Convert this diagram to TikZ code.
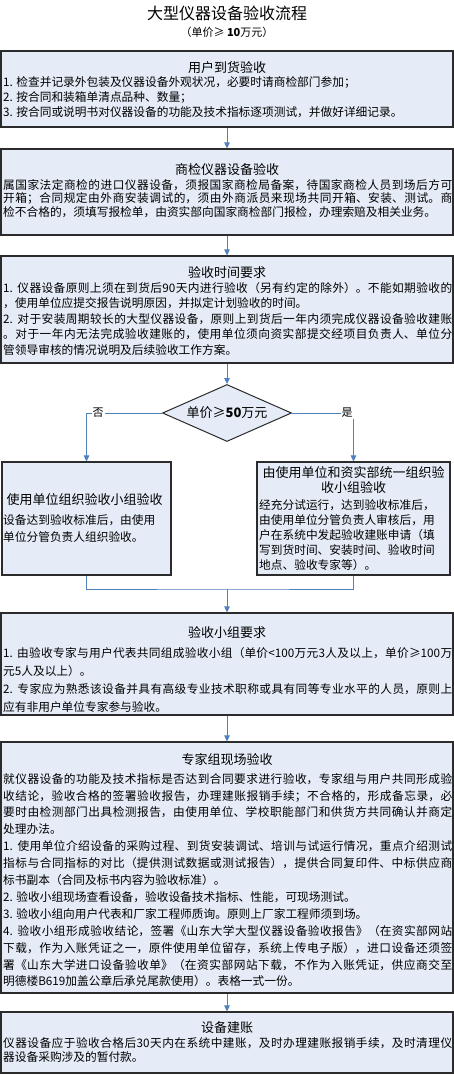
\documentclass[tikz,border=0pt]{standalone}
\usepackage{fontspec}
\setmainfont{Noto Sans CJK SC}
\usetikzlibrary{shapes.geometric,arrows.meta}
\XeTeXlinebreaklocale "zh"
\XeTeXlinebreakskip=0pt plus 1.5pt minus 0.1pt
\setlength{\parindent}{0pt}
\setlength{\parskip}{0pt}
\definecolor{boxfill}{HTML}{E5ECF7}
\definecolor{boxline}{HTML}{2B2B2B}
\definecolor{connc}{HTML}{4F81BD}
\begin{document}
\begin{tikzpicture}[x=1pt,y=-1pt,
  box/.style={draw=boxline, fill=boxfill, line width=1.1pt, inner sep=0pt},
  dia/.style={diamond, draw=boxline, fill=boxfill, line width=1pt, aspect=2.26,
    minimum width=129pt, minimum height=57pt, inner sep=0pt, font=\fontsize{13}{15}\selectfont},
  conn/.style={draw=connc, line width=0.9pt},
  arr/.style={conn, -{Triangle[width=5.5pt,length=6pt]}},
  ttl/.style={inner sep=0pt, font=\fontsize{13}{15}\selectfont},
  body/.style={inner sep=0pt, anchor=north west, align=justify, text width=449pt},
  lbl/.style={fill=white, inner sep=1pt, font=\fontsize{11}{13}\selectfont}]
\useasboundingbox (0,0) rectangle (454,1075);
\fill[white] (0,0) rectangle (454,1075);

% main title
\node[inner sep=0pt, font=\fontsize{16}{18}\selectfont] (title) at (227,13) {大型仪器设备验收流程};
\node[inner sep=0pt, font=\fontsize{11}{13}\selectfont] (sub) at (227,32) {（单价≥ \textbf{10}万元）};

% boxes
\node[box, minimum width=452pt, minimum height=76pt] (b1) at (227,89) {};
\node[box, minimum width=452pt, minimum height=86pt] (b2) at (227,192) {};
\node[box, minimum width=452pt, minimum height=107pt] (b3) at (227,309.5) {};
\node[dia] (d) at (227,413) {单价≥\textbf{50}万元};
\node[box, minimum width=169pt, minimum height=113pt] (lb) at (86.5,518.5) {};
\node[box, minimum width=193pt, minimum height=113pt] (rb) at (353.5,518.5) {};
\node[box, minimum width=452pt, minimum height=102pt] (b4) at (227,664) {};
\node[box, minimum width=452pt, minimum height=251pt] (b5) at (227,867.5) {};
\node[box, minimum width=452pt, minimum height=61pt] (b6) at (227,1042.5) {};

% connectors
\draw[arr] (b1.south) -- (b2.north);
\draw[arr] (b2.south) -- (b3.north);
\draw[arr] (b3.south) -- (d.north);
\draw[arr] (d.west) -| (lb.north);
\draw[arr] (d.east) -| (rb.north);
\coordinate (m) at (227,589);
\draw[conn] (lb.south) |- (m) -| (rb.south);
\draw[arr] (m) -- (b4.north);
\draw[arr] (b4.south) -- (b5.north);
\draw[arr] (b5.south) -- (b6.north);
\node[lbl] (no) at (98,413) {否};
\node[lbl] (yes) at (347,413) {是};

% box 1
\node[ttl] (t1) at (227,68) {用户到货验收};
\node[body, font=\fontsize{11.7}{15}\selectfont] (x1) at (3,76) {1. 检查并记录外包装及仪器设备外观状况，必要时请商检部门参加；\par
2. 按合同和装箱单清点品种、数量；\par
3. 按合同或说明书对仪器设备的功能及技术指标逐项测试，并做好详细记录。};

% box 2
\node[ttl] (t2) at (227,170) {商检仪器设备验收};
\node[body, font=\fontsize{11.7}{13.5}\selectfont] (x2) at (3,179) {属国家法定商检的进口仪器设备，须报国家商检局备案，待国家商检人员到场后方可\linebreak 开箱；合同规定由外商安装调试的，须由外商派员来现场共同开箱、安装、测试。商\linebreak 检不合格的，须填写报检单，由资实部向国家商检部门报检，办理索赔及相关业务。};

% box 3
\node[ttl] (t3) at (227,273) {验收时间要求};
\node[body, font=\fontsize{11.7}{15.5}\selectfont] (x3) at (3,282) {1. 仪器设备原则上须在到货后90天内进行验收（另有约定的除外）。不能如期验收的\linebreak ，使用单位应提交报告说明原因，并拟定计划验收的时间。\par
2. 对于安装周期较长的大型仪器设备，原则上到货后一年内须完成仪器设备验收建账\linebreak 。对于一年内无法完成验收建账的，使用单位须向资实部提交经项目负责人、单位分\linebreak 管领导审核的情况说明及后续验收工作方案。};

% left box
\node[ttl] (tl) at (84.5,500) {使用单位组织验收小组验收};
\node[body, align=left, text width=166pt, font=\fontsize{11.7}{17}\selectfont] (xl) at (3,514) {设备达到验收标准后，由使用\\单位分管负责人组织验收。};

% right box
\node[ttl, align=center, font=\fontsize{13}{15}\selectfont] (tr) at (353.5,480.5) {由使用单位和资实部统一组织验\\收小组验收};
\node[body, align=left, text width=191pt, font=\fontsize{11.7}{15}\selectfont] (xr) at (259,499) {经充分试运行，达到验收标准后，\\由使用单位分管负责人审核后，用\\户在系统中发起验收建账申请（填\\写到货时间、安装时间、验收时间\\地点、验收专家等）。};

% box 4
\node[ttl] (t4) at (227,633) {验收小组要求};
\node[body, font=\fontsize{11.7}{18}\selectfont] (x4) at (3,647) {1. 由验收专家与用户代表共同组成验收小组（单价<100万元3人及以上，单价≥100万\linebreak 元5人及以上）。\par
2. 专家应为熟悉该设备并具有高级专业技术职称或具有同等专业水平的人员，原则上\linebreak 应有非用户单位专家参与验收。};

% box 5
\node[ttl] (t5) at (227,760) {专家组现场验收};
\node[body, font=\fontsize{11.7}{16.9}\selectfont] (x5) at (3,773) {就仪器设备的功能及技术指标是否达到合同要求进行验收，专家组与用户共同形成验\linebreak 收结论，验收合格的签署验收报告，办理建账报销手续；不合格的，形成备忘录，必\linebreak 要时由检测部门出具检测报告，由使用单位、学校职能部门和供货方共同确认并商定\linebreak 处理办法。\par
1. 使用单位介绍设备的采购过程、到货安装调试、培训与试运行情况，重点介绍测试\linebreak 指标与合同指标的对比（提供测试数据或测试报告），提供合同复印件、中标供应商\linebreak 标书副本（合同及标书内容为验收标准）。\par
2. 验收小组现场查看设备，验收设备技术指标、性能，可现场测试。\par
3. 验收小组向用户代表和厂家工程师质询。原则上厂家工程师须到场。\par
4. 验收小组形成验收结论，签署《山东大学大型仪器设备验收报告》（在资实部网站\linebreak 下载，作为入账凭证之一，原件使用单位留存，系统上传电子版），进口设备还须签\linebreak 署《山东大学进口设备验收单》（在资实部网站下载，不作为入账凭证，供应商交至\linebreak 明德楼B619加盖公章后承兑尾款使用）。表格一式一份。};

% box 6
\node[ttl] (t6) at (227,1028) {设备建账};
\node[body, font=\fontsize{11.7}{14.5}\selectfont] (x6) at (3,1037) {仪器设备应于验收合格后30天内在系统中建账，及时办理建账报销手续，及时清理仪\linebreak 器设备采购涉及的暂付款。};
\end{tikzpicture}
\end{document}
